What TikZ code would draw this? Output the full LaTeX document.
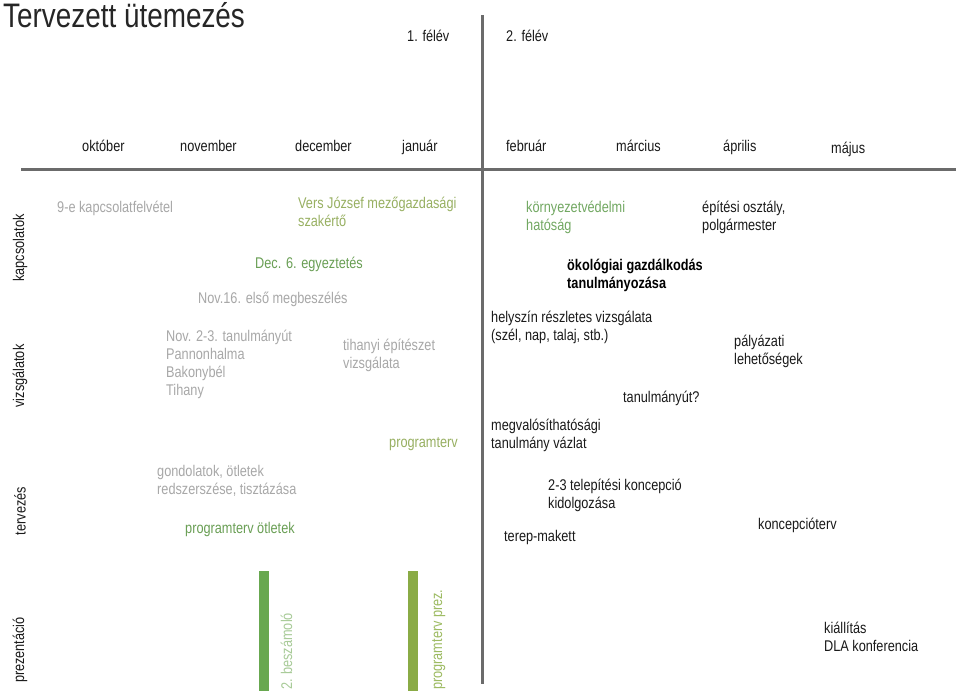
\documentclass[tikz,border=0pt]{standalone}
\usepackage{fontspec}
\setmainfont{Liberation Sans}[FakeStretch=0.82]
\definecolor{lgray}{HTML}{A8A8A8}
\definecolor{olive}{HTML}{98B062}
\definecolor{dgreen}{HTML}{6A9F55}
\definecolor{kgreen}{HTML}{72A862}
\definecolor{barA}{HTML}{68A850}
\definecolor{barB}{HTML}{8AAB46}
\definecolor{barAtxt}{HTML}{A8CB98}
\definecolor{barBtxt}{HTML}{9DBB62}
\definecolor{axis}{HTML}{6B6B6B}
\definecolor{ink}{HTML}{1A1A1A}
\begin{document}
\begin{tikzpicture}[x=1pt,y=-1pt,
  txt/.style={anchor=base west, inner sep=0pt, align=left, text=ink,
              font=\fontsize{15.5}{18}\selectfont},
  rowlab/.style={anchor=center, inner sep=0pt, rotate=90, text=ink,
              font=\fontsize{15.5}{18}\selectfont},
  month/.style={txt},
  faint/.style={txt, text=lgray},
  axisline/.style={draw=axis, line width=3pt},
  bartxt/.style={anchor=base west, inner sep=0pt, rotate=90,
              font=\fontsize{15.5}{18}\selectfont}]
\useasboundingbox (0,0) rectangle (960,697);
\fill[white] (0,0) rectangle (960,697);

% title and semesters
\node[anchor=base west, inner sep=0pt, text=black!85,
      font=\fontsize{34}{36}\selectfont] (title) at (3,27) {Tervezett ütemezés};
\node[txt] (f1) at (407,41) {1. félév};
\node[txt] (f2) at (506,41) {2. félév};

% axes
\coordinate (vt) at (482,15);
\coordinate (vb) at (482,684);
\coordinate (hl) at (21,169);
\coordinate (hr) at (956,169);
\draw[axisline] (vt) -- (vb);
\draw[axisline] (hl) -- (hr);

% months
\node[month] (m1) at (82,151) {október};
\node[month] (m2) at (180,151) {november};
\node[month] (m3) at (295,151) {december};
\node[month] (m4) at (402,151) {január};
\node[month] (m5) at (506,151) {február};
\node[month] (m6) at (616,151) {március};
\node[month] (m7) at (723,151) {április};
\node[month] (m8) at (831,153) {május};

% row labels
\node[rowlab] (r1) at (20,248) {kapcsolatok};
\node[rowlab] (r2) at (20,376) {vizsgálatok};
\node[rowlab] (r3) at (20,511) {tervezés};
\node[rowlab] (r4) at (20,650) {prezentáció};

% first semester items (y = baseline of last line)
\node[faint] (a1) at (57,212) {9-e kapcsolatfelvétel};
\node[txt, text=olive] (a2) at (298,226) {Vers József mezőgazdasági\\szakértő};
\node[txt, text=dgreen] (a3) at (255,268) {Dec. 6. egyeztetés};
\node[faint] (a4) at (198,303) {Nov.16. első megbeszélés};
\node[faint] (a5) at (166,395) {Nov. 2-3. tanulmányút\\Pannonhalma\\Bakonybél\\Tihany};
\node[faint] (a6) at (343,368) {tihanyi építészet\\vizsgálata};
\node[txt, text=olive] (a7) at (389,447) {programterv};
\node[faint] (a8) at (157,494) {gondolatok, ötletek\\redszerszése, tisztázása};
\node[txt, text=dgreen] (a9) at (185,533) {programterv ötletek};

% presentation bars
\fill[barA] (259,571) rectangle (269,691);
\fill[barB] (408,571) rectangle (418,691);
\node[bartxt, text=barAtxt] (p1) at (292,690) {2. beszámoló};
\node[bartxt, text=barBtxt] (p2) at (442,690) {programterv prez.};

% second semester items
\node[txt, text=kgreen] (b1) at (526,230) {környezetvédelmi\\hatóság};
\node[txt] (b2) at (702,230) {építési osztály,\\polgármester};
\node[txt, text=black, font=\fontsize{15.5}{18}\selectfont\bfseries] (b3) at (567,288) {ökológiai gazdálkodás\\tanulmányozása};
\node[txt] (b4) at (491,340) {helyszín részletes vizsgálata\\(szél, nap, talaj, stb.)};
\node[txt] (b5) at (734,364) {pályázati\\lehetőségek};
\node[txt] (b6) at (623,402) {tanulmányút?};
\node[txt] (b7) at (491,448) {megvalósíthatósági\\tanulmány vázlat};
\node[txt] (b8) at (548,508) {2-3 telepítési koncepció\\kidolgozása};
\node[txt] (b9) at (504,541) {terep-makett};
\node[txt] (b10) at (758,529) {koncepcióterv};
\node[txt] (b11) at (824,651) {kiállítás\\DLA konferencia};
\end{tikzpicture}
\end{document}
